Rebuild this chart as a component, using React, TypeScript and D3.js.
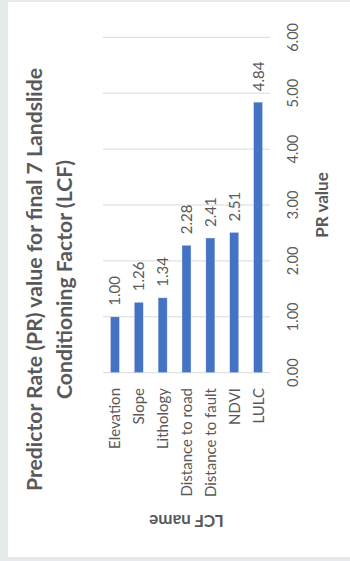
import React from "react";
import * as d3 from "d3";

const categories = ["Elevation", "Slope", "Lithology", "Distance to road", "Distance to fault", "NDVI", "LULC"];
const prValues = [1.0, 1.26, 1.34, 2.28, 2.41, 2.51, 4.84];
const valueTicks = [0, 1, 2, 3, 4, 5, 6];
const titleLines = ["Predictor Rate (PR) value for final 7 Landslide", "Conditioning Factor (LCF)"];
const valueAxisTitle = "PR value";
const categoryAxisTitle = "LCF name";

const W = 350;
const H = 561;
const FONT = "Lato, 'Open Sans', sans-serif";
const TEXT = "#595959";

export default function App() {
  // The chart is laid out sideways: bars rise upward, every text runs bottom-to-top.
  const y = d3.scaleLinear().domain([0, 6]).range([372.7, 37.3]);
  const x = d3
    .scaleBand<string>()
    .domain(categories)
    .range([103, 270])
    .paddingInner(0.62)
    .paddingOuter(0.31);

  const rows = categories.map((c, i) => ({ c, v: prValues[i] }));

  return (
    <svg
      width={W}
      height={H}
      style={{ position: "fixed", left: 0, top: 0, display: "block" }}
      fontFamily={FONT}
    >
      <rect x={0} y={0} width={W} height={H} fill="#e6eaea" />
      <rect x={8} y={2} width={W - 8} height={556} fill="#ffffff" />
      <line x1={8} x2={W} y1={558} y2={558} stroke="#d6dada" strokeWidth={1} />

      {/* gridlines */}
      {valueTicks.map((t) => (
        <line key={t} x1={103} x2={270} y1={y(t)} y2={y(t)} stroke="#d9d9d9" strokeWidth={1} />
      ))}

      {/* value tick labels */}
      {valueTicks.map((t) => (
        <text
          key={t}
          transform={`translate(298,${y(t)}) rotate(-90)`}
          textAnchor="middle"
          fontSize={14.5}
          fill={TEXT}
        >
          {d3.format(".2f")(t)}
        </text>
      ))}

      {/* bars */}
      {rows.map((r) => (
        <rect
          key={r.c}
          x={x(r.c)!}
          width={x.bandwidth()}
          y={y(r.v)}
          height={y(0) - y(r.v)}
          fill="#4472c4"
          stroke="#ffffff"
          strokeOpacity={0.6}
          strokeWidth={0.6}
        />
      ))}

      {/* value labels */}
      {rows.map((r) => (
        <text
          key={r.c}
          transform={`translate(${x(r.c)! + x.bandwidth() / 2 + 5.5},${y(r.v) - 11}) rotate(-90)`}
          textAnchor="start"
          fontSize={15}
          fill={TEXT}
        >
          {d3.format(".2f")(r.v)}
        </text>
      ))}

      {/* category labels */}
      {rows.map((r) => (
        <text
          key={r.c}
          transform={`translate(${x(r.c)! + x.bandwidth() / 2 + 5.5},388) rotate(-90)`}
          textAnchor="end"
          fontSize={15}
          fill={TEXT}
        >
          {r.c}
        </text>
      ))}

      {/* value axis title */}
      <text
        transform={`translate(327.5,${(y(0) + y(6)) / 2}) rotate(-90)`}
        textAnchor="middle"
        fontSize={17}
        fontWeight="bold"
        fill={TEXT}
      >
        {valueAxisTitle}
      </text>

      {/* category axis title */}
      <text
        transform={`translate(186.5,515) rotate(180)`}
        textAnchor="middle"
        fontSize={17}
        fontWeight="bold"
        fill={TEXT}
      >
        {categoryAxisTitle}
      </text>

      {/* chart title */}
      {titleLines.map((line, i) => (
        <text
          key={i}
          transform={`translate(${42 + i * 30},279.5) rotate(-90)`}
          textAnchor="middle"
          fontSize={21.2}
          fontWeight="bold"
          fill={TEXT}
        >
          {line}
        </text>
      ))}
    </svg>
  );
}
